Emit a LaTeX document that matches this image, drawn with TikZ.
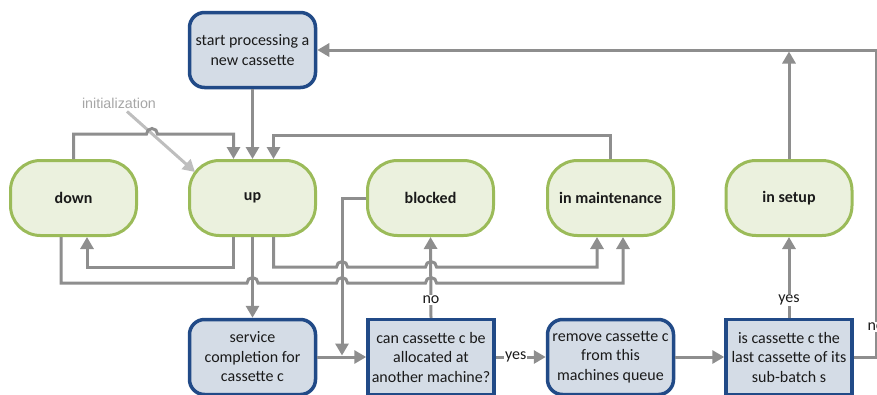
\documentclass[tikz,border=0pt]{standalone}
\usepackage{fontspec}
\setmainfont{Carlito}
\newfontfamily\initfont{Liberation Sans}
\usetikzlibrary{arrows.meta,calc}

\definecolor{procborder}{HTML}{214A87}
\definecolor{procfill}{HTML}{D4DCE6}
\definecolor{stateborder}{HTML}{9BBB59}
\definecolor{statefill}{HTML}{EBF1DE}
\definecolor{conncol}{HTML}{8E8E8E}
\definecolor{initcol}{HTML}{BEBEBE}
\definecolor{inittext}{HTML}{A6A6A6}
\definecolor{txt}{HTML}{1A1A1A}

\tikzset{
  basefont/.style={font=\fontsize{16}{19.5}\selectfont, text=txt},
  statebox/.style={basefont, font=\fontsize{16}{19.5}\selectfont\bfseries,
    draw=stateborder, fill=statefill, line width=3pt, rounded corners=30pt,
    minimum width=126pt, minimum height=75pt, inner sep=2pt},
  procbox/.style={basefont, align=center, draw=procborder, fill=procfill,
    line width=3.5pt, rounded corners=15pt,
    minimum width=126pt, minimum height=75pt, inner sep=2pt},
  decbox/.style={procbox, rounded corners=0pt},
  conn/.style={draw=conncol, line width=3pt,
    -{Triangle[length=12pt,width=13pt]}},
  plain/.style={draw=conncol, line width=3pt},
  lbl/.style={basefont, fill=white, inner sep=1pt},
}

\begin{document}
\begin{tikzpicture}[x=1pt, y=-1pt]
\useasboundingbox (0,0) rectangle (877,394);
\clip (0,0) rectangle (877,394);

% process steps
\node[procbox] (start) at (252.5,50) {start processing a\\new cassette};
\node[procbox] (service) at (252.5,357) {service\\completion for\\cassette c};
\node[decbox] (alloc) at (431,357) {can cassette c be\\allocated at\\another machine?};
\node[procbox] (remove) at (610.5,357) {remove cassette c\\from this\\machines queue};
\node[decbox] (last) at (789,357) {is cassette c the\\last cassette of its\\sub-batch s};

% machine states
\node[statebox] (down) at (73.5,198) {down};
\node[statebox] (up) at (252.5,198) {up};
\node[statebox] (blocked) at (430.5,198) {blocked};
\node[statebox] (maint) at (610.5,198) {in maintenance};
\node[statebox] (setup) at (789,198) {in setup};

% initialization
\node[font=\initfont\fontsize{14.3}{17}\selectfont, text=inittext, inner sep=1pt]
  (init) at (119,103) {initialization};
\coordinate (initend) at (195,172);
\draw[draw=initcol, line width=3pt, -{Triangle[length=12pt,width=13pt]}]
  ($(init.south)+(8,2)$) -- (initend);

% start -> up
\draw[conn] (start.south) -- (up.north);

% down -> up (hops over the initialization arrow)
\draw[conn] (down.north) -- (73.5,134) -- (146.5,134)
  arc[start angle=180, end angle=360, radius=5.5]
  -| ([xshift=-19pt]up.north);

% maintenance -> up
\draw[conn] (maint.north) -- ++(0,-24) -| ([xshift=21pt]up.north);

% up -> down
\draw[conn] ([xshift=-19pt]up.south) -- ++(0,30) -| ([xshift=13.5pt]down.south);

% up -> service completion
\draw[conn] (up.south) -- (service.north);

% up -> maintenance
\draw[conn] ([xshift=21pt]up.south) -- ++(0,30) -- (336.5,267)
  arc[start angle=180, end angle=360, radius=5.5] -- (425.5,267)
  arc[start angle=180, end angle=360, radius=5.5]
  -| ([xshift=-13.5pt]maint.south);

% down -> maintenance
\draw[conn] ([xshift=-12.5pt]down.south) -- ++(0,46) -- (247,283)
  arc[start angle=180, end angle=360, radius=5.5] -- (336.5,283)
  arc[start angle=180, end angle=360, radius=5.5] -- (425.5,283)
  arc[start angle=180, end angle=360, radius=5.5]
  -| ([xshift=12.5pt]maint.south);

% blocked -> allocation check
\coordinate (blockjoin) at (342,355.5);
\draw[conn] (blocked.west) -| (blockjoin);

% lower flow
\draw[conn] (service.east) -- (alloc.west);
\draw[conn] (alloc.north) -- (blocked.south);
\node[lbl] at (431,300) {no};
\draw[conn] (alloc.east) -- node[lbl, pos=0.4] {yes} (remove.west);
\draw[conn] (remove.east) -- (last.west);
\draw[conn] (last.north) -- (setup.south);
\node[lbl] at (789,300) {yes};

% setup -> back to the top line
\coordinate (setupjoin) at (789,51.5);
\draw[conn] (setup.north) -- (setupjoin);

% last cassette? no -> start a new cassette
\coordinate (rightturn) at (876,50);
\draw[conn] (last.east) -| (rightturn) -- (start.east);
\node[lbl] at (876,327) {no};
\end{tikzpicture}
\end{document}
